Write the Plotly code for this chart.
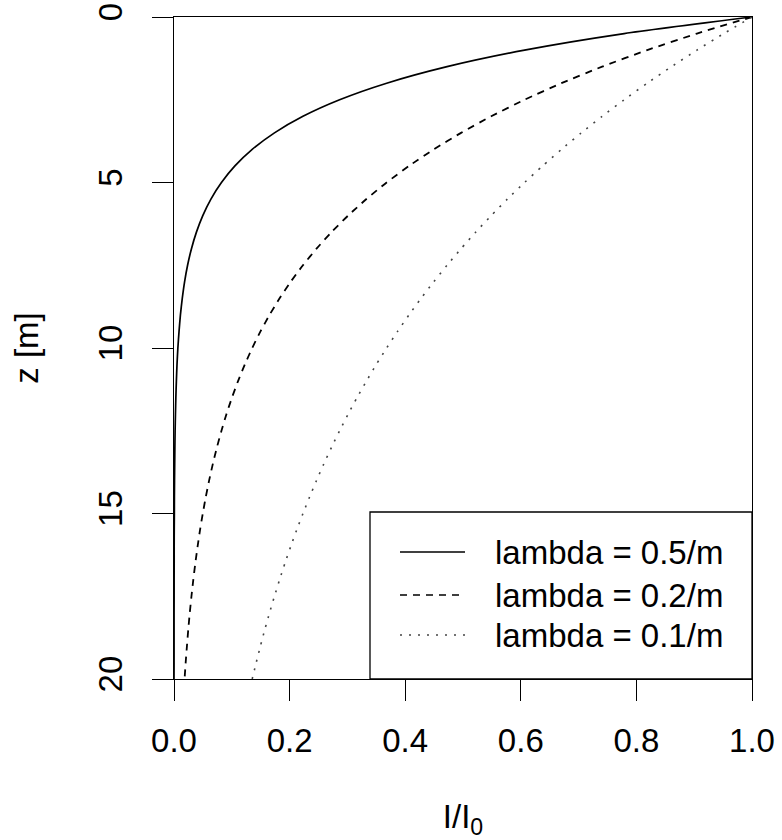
import plotly.graph_objects as go

# depth z [m]
z = [0, 0.5, 1, 1.5, 2, 2.5, 3, 3.5, 4, 4.5, 5, 5.5, 6, 6.5, 7, 7.5, 8, 8.5, 9, 9.5,
     10, 10.5, 11, 11.5, 12, 12.5, 13, 13.5, 14, 14.5, 15, 15.5, 16, 16.5, 17, 17.5,
     18, 18.5, 19, 19.5, 20]

# relative intensity I/I0 for each attenuation coefficient
i_05 = [1.0, 0.7788, 0.6065, 0.4724, 0.3679, 0.2865, 0.2231, 0.1738, 0.1353, 0.1054,
        0.0821, 0.0639, 0.0498, 0.0388, 0.0302, 0.0235, 0.0183, 0.0143, 0.0111, 0.0087,
        0.0067, 0.0052, 0.0041, 0.0032, 0.0025, 0.0019, 0.0015, 0.0012, 0.0009, 0.0007,
        0.0006, 0.0004, 0.0003, 0.0003, 0.0002, 0.0002, 0.0001, 0.0001, 0.0001, 0.0001,
        0.0000]
i_02 = [1.0, 0.9048, 0.8187, 0.7408, 0.6703, 0.6065, 0.5488, 0.4966, 0.4493, 0.4066,
        0.3679, 0.3329, 0.3012, 0.2725, 0.2466, 0.2231, 0.2019, 0.1827, 0.1653, 0.1496,
        0.1353, 0.1225, 0.1108, 0.1003, 0.0907, 0.0821, 0.0743, 0.0672, 0.0608, 0.0550,
        0.0498, 0.0450, 0.0408, 0.0369, 0.0334, 0.0302, 0.0273, 0.0247, 0.0224, 0.0202,
        0.0183]
i_01 = [1.0, 0.9512, 0.9048, 0.8607, 0.8187, 0.7788, 0.7408, 0.7047, 0.6703, 0.6376,
        0.6065, 0.5769, 0.5488, 0.5220, 0.4966, 0.4724, 0.4493, 0.4274, 0.4066, 0.3867,
        0.3679, 0.3499, 0.3329, 0.3166, 0.3012, 0.2865, 0.2725, 0.2592, 0.2466, 0.2346,
        0.2231, 0.2122, 0.2019, 0.1920, 0.1827, 0.1738, 0.1653, 0.1572, 0.1496, 0.1423,
        0.1353]

series_names = ["lambda = 0.5/m", "lambda = 0.2/m", "lambda = 0.1/m"]
x_ticks = [0, 0.2, 0.4, 0.6, 0.8, 1.0]
x_ticklabels = ["0.0", "0.2", "0.4", "0.6", "0.8", "1.0"]
y_ticks = [0, 5, 10, 15, 20]
y_ticklabels = ["0", "5", "10", "15", "20"]

FONT = "Liberation Sans, Arial, sans-serif"
FS = 33
dashes = ["solid", "7px,6px", "2px,7px"]
colors = ["black", "black", "#444444"]
widths = [1.7, 1.8, 1.6]

fig = go.Figure()
for vals, name, d, c, w in zip([i_05, i_02, i_01], series_names, dashes, colors, widths):
    fig.add_trace(go.Scatter(x=vals, y=z, mode="lines", name=name,
                             line=dict(color=c, width=w, dash=d, shape="spline", smoothing=0.6),
                             showlegend=False))

W, H = 578.0, 662.0
def px_x(p):
    return (p - 174) / W
def px_y(p):
    return (679 - p) / H

shapes = [dict(type="rect", xref="paper", yref="paper",
               x0=px_x(370), x1=1, y0=0, y1=px_y(512),
               line=dict(color="black", width=1.3), fillcolor="white", layer="above")]
annotations = []
rows = [552, 595, 635]
for name, d, c, r in zip(series_names, dashes, colors, rows):
    shapes.append(dict(type="line", xref="paper", yref="paper",
                       x0=px_x(400), x1=px_x(465), y0=px_y(r), y1=px_y(r),
                       line=dict(color=c, width=1.4, dash=d), layer="above"))
    annotations.append(dict(xref="paper", yref="paper", x=px_x(493), y=px_y(r),
                            text=name, showarrow=False, xanchor="left", yanchor="middle",
                            font=dict(family=FONT, size=FS, color="black")))

fig.update_layout(
    width=782, height=840,
    margin=dict(l=174, r=30, t=17, b=161),
    plot_bgcolor="white", paper_bgcolor="white",
    font=dict(family=FONT, size=FS, color="black"),
    shapes=shapes, annotations=annotations,
    showlegend=False,
)
fig.update_xaxes(range=[0, 1], tickvals=x_ticks, ticktext=x_ticklabels,
                 showgrid=False, zeroline=False, showline=True, mirror=True,
                 linecolor="black", linewidth=1.3, ticks="outside", ticklen=21,
                 tickwidth=1.3, tickcolor="black", ticklabelstandoff=11,
                 automargin=False, ticklabeloverflow="allow",
                 title=dict(text="I/I<sub>0</sub>", standoff=50,
                            font=dict(family=FONT, size=FS)))
fig.update_yaxes(range=[20, 0], tickvals=y_ticks, ticktext=y_ticklabels,
                 showgrid=False, zeroline=False, showline=True, mirror=True,
                 linecolor="black", linewidth=1.3, ticks="outside", ticklen=21,
                 tickwidth=1.3, tickcolor="black", tickangle=-90, ticklabelstandoff=17,
                 automargin=False, ticklabeloverflow="allow",
                 title=dict(text="z [m]", standoff=43,
                            font=dict(family=FONT, size=FS)))

# remove the browser's default 8px body margin so the figure fills the window
fig.write_html("out.html",
               config={"displayModeBar": False},
               post_script="document.body.style.margin='0';document.body.style.overflow='hidden';")
